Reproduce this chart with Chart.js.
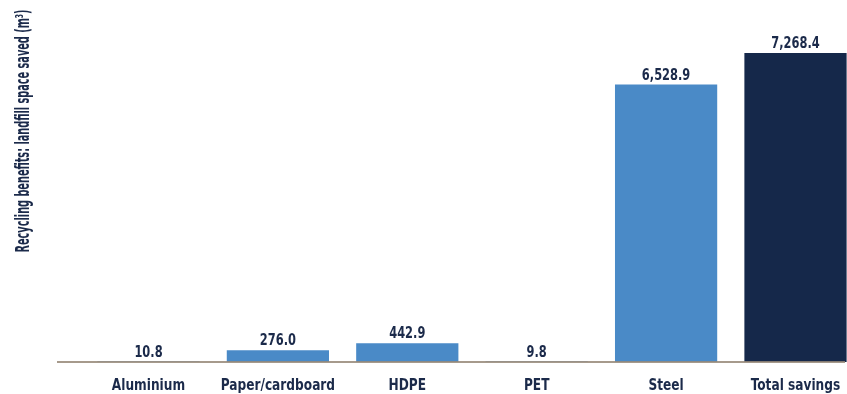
<!DOCTYPE html>
<html>
<head>
<meta charset="utf-8">
<style>
  html, body { margin: 0; padding: 0; background: #ffffff; overflow: hidden; }
  #wrap { position: relative; width: 847px; height: 394px; }
</style>
<script src="https://cdn.jsdelivr.net/npm/chart.js@4/dist/chart.umd.min.js"></script>
</head>
<body>
<div id="wrap"><canvas id="chart"></canvas></div>
<script>
// Landfill space saved by recycling, per material (m³)
const categories = ['Aluminium', 'Paper/cardboard', 'HDPE', 'PET', 'Steel', 'Total savings'];
const landfillSaved = [10.8, 276.0, 442.9, 9.8, 6528.9, 7268.4];
const barColors = ['#4a8ac7', '#4a8ac7', '#4a8ac7', '#4a8ac7', '#4a8ac7', '#15284a'];
const yTitle = 'Recycling benefits: landfill space saved (m³)';

const TEXT = '#1b2a4a';
const FONT = '"DejaVu Sans Condensed", "DejaVu Sans", sans-serif';
const SQUEEZE = 0.82;   // horizontal squeeze for a narrow, condensed look

function narrowText(ctx, txt, x, y, size) {
  ctx.save();
  ctx.font = 'bold ' + size + 'px ' + FONT;
  ctx.translate(x, y);
  ctx.scale(SQUEEZE, 1);
  ctx.fillText(txt, 0, 0);
  ctx.restore();
}

// value labels, category labels, baseline rule and rotated axis title
const decorations = {
  id: 'decorations',
  afterDatasetsDraw(chart) {
    const ctx = chart.ctx;
    const xScale = chart.scales.x;
    const yScale = chart.scales.y;
    const base = yScale.getPixelForValue(0);

    // baseline rule
    ctx.save();
    ctx.strokeStyle = 'rgba(150,136,120,0.85)';
    ctx.lineWidth = 2;
    ctx.beginPath();
    ctx.moveTo(57, base);
    ctx.lineTo(845, base);
    ctx.stroke();
    ctx.restore();

    ctx.save();
    ctx.fillStyle = TEXT;
    ctx.textAlign = 'center';
    ctx.textBaseline = 'alphabetic';

    // value labels
    const meta = chart.getDatasetMeta(0);
    meta.data.forEach((bar, i) => {
      const txt = landfillSaved[i].toLocaleString('en-US', { minimumFractionDigits: 1, maximumFractionDigits: 1 });
      narrowText(ctx, txt, bar.x, Math.min(bar.y, base) - 5, 15.5);
    });

    // category labels
    categories.forEach((c, i) => {
      narrowText(ctx, c, xScale.getPixelForValue(i), base + 28, 16.5);
    });
    ctx.restore();

    // rotated y-axis title, fitted to its span
    ctx.save();
    ctx.fillStyle = TEXT;
    ctx.textAlign = 'center';
    ctx.textBaseline = 'alphabetic';
    ctx.font = 'bold 19px ' + FONT;
    const w = ctx.measureText(yTitle).width;
    ctx.translate(29, 131);
    ctx.rotate(-Math.PI / 2);
    ctx.scale(243 / w, 1);
    ctx.fillText(yTitle, 0, 0);
    ctx.restore();
  }
};

new Chart(document.getElementById('chart'), {
  type: 'bar',
  data: {
    datasets: [{
      data: landfillSaved.map((v, i) => ({ x: i, y: v })),
      backgroundColor: barColors,
      borderWidth: 0,
      categoryPercentage: 0.79,
      barPercentage: 1.0
    }]
  },
  options: {
    responsive: true,
    maintainAspectRatio: false,
    animation: false,
    layout: { padding: { top: 22, left: 57, right: 0, bottom: 32 } },
    plugins: { legend: { display: false }, tooltip: { enabled: false } },
    scales: {
      x: {
        type: 'linear',
        offset: false,
        min: -0.707,
        max: 5.398,
        afterBuildTicks(scale) {
          scale.ticks = categories.map((_, i) => ({ value: i }));
        },
        grid: { display: false, drawTicks: false },
        border: { display: false },
        ticks: { display: false }
      },
      y: {
        display: false,
        min: 0,
        max: 8000
      }
    }
  },
  plugins: [decorations]
});
</script>
</body>
</html>
